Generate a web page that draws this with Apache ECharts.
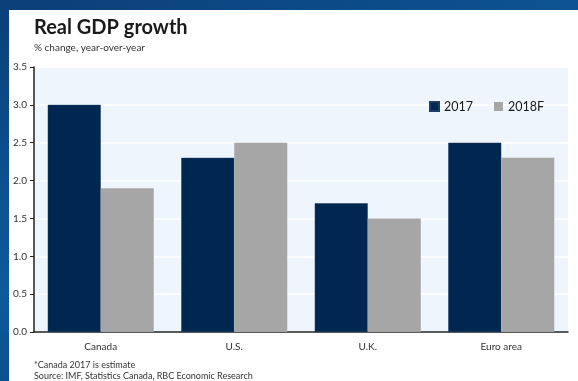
<!DOCTYPE html>
<html>
<head>
<meta charset="utf-8">
<script src="https://cdn.jsdelivr.net/npm/echarts@6/dist/echarts.min.js"></script>
<style>
    html, body{
        margin: 0;
        padding: 0;
        width: 578px;
        height: 381px;
        background: linear-gradient(160deg, #0b3f78 0%, #0d5a9c 50%, #07386d 100%);
        overflow: hidden;
    }
    #chart{
        width: 578px;
        height: 381px;
    }
</style>
</head>
<body>
<div id="chart"></div>
<script>
var categories = ['Canada', 'U.S.', 'U.K.', 'Euro area'];
var series2017 = [3.0, 2.3, 1.7, 2.5];
var series2018F = [1.9, 2.5, 1.5, 2.3];
var seriesNames = ['2017', '2018F'];

var font = 'Lato, "DejaVu Sans", sans-serif';

var option = {
    animation: false,
    backgroundColor: 'transparent',
    textStyle: { fontFamily: font },
    graphic: [
        {
            type: 'rect',
            z: -10,
            shape: { x: 9, y: 10, width: 569, height: 371 },
            style: { fill: '#ffffff' }
        },
        {
            type: 'text',
            left: 34, top: 18,
            style: { text: 'Real GDP growth', font: 'bold 20px ' + font, fill: '#1a1a1a' }
        },
        {
            type: 'text',
            left: 34, top: 43,
            style: { text: '% change, year-over-year', font: '10px ' + font, fill: '#333' }
        },
        {
            type: 'text',
            left: 34, top: 361,
            style: { text: '*Canada 2017 is estimate', font: '9px ' + font, fill: '#333' }
        },
        {
            type: 'text',
            left: 34, top: 372,
            style: { text: 'Source: IMF, Statistics Canada, RBC Economic Research', font: '9px ' + font, fill: '#333' }
        }
    ],
    legend: {
        data: seriesNames,
        icon: 'rect',
        left: 424,
        top: 95,
        itemWidth: 9,
        itemHeight: 9,
        itemGap: 21,
        textStyle: { fontSize: 12.5, color: '#1a1a1a', fontFamily: font }
    },
    grid: {
        left: 34,
        right: 10,
        top: 67,
        bottom: 49,
        show: true,
        backgroundColor: '#eef5fc',
        borderWidth: 0
    },
    xAxis: {
        type: 'category',
        data: categories,
        axisLine: { lineStyle: { color: '#222', width: 1.5 } },
        axisTick: { show: false },
        axisLabel: { fontSize: 10, color: '#333', margin: 10 }
    },
    yAxis: {
        type: 'value',
        min: 0,
        max: 3.5,
        interval: 0.5,
        axisLine: { show: true, lineStyle: { color: '#222', width: 1.5 } },
        axisTick: { show: true, length: 4, lineStyle: { color: '#222' } },
        splitLine: { lineStyle: { color: '#ffffff', width: 1.5 } },
        axisLabel: {
            fontSize: 10,
            color: '#333',
            margin: 7,
            formatter: function (v) { return v.toFixed(1); }
        }
    },
    series: [
        {
            name: seriesNames[0],
            type: 'bar',
            data: series2017,
            barWidth: 53,
            barGap: '0%',
            itemStyle: { color: '#00274f', borderColor: '#1c3d66', borderWidth: 0.5 }
        },
        {
            name: seriesNames[1],
            type: 'bar',
            data: series2018F,
            barWidth: 53,
            itemStyle: { color: '#a6a6a6' }
        }
    ]
};

var myChart = echarts.init(document.getElementById('chart'));
myChart.setOption(option);
</script>
</body>
</html>
